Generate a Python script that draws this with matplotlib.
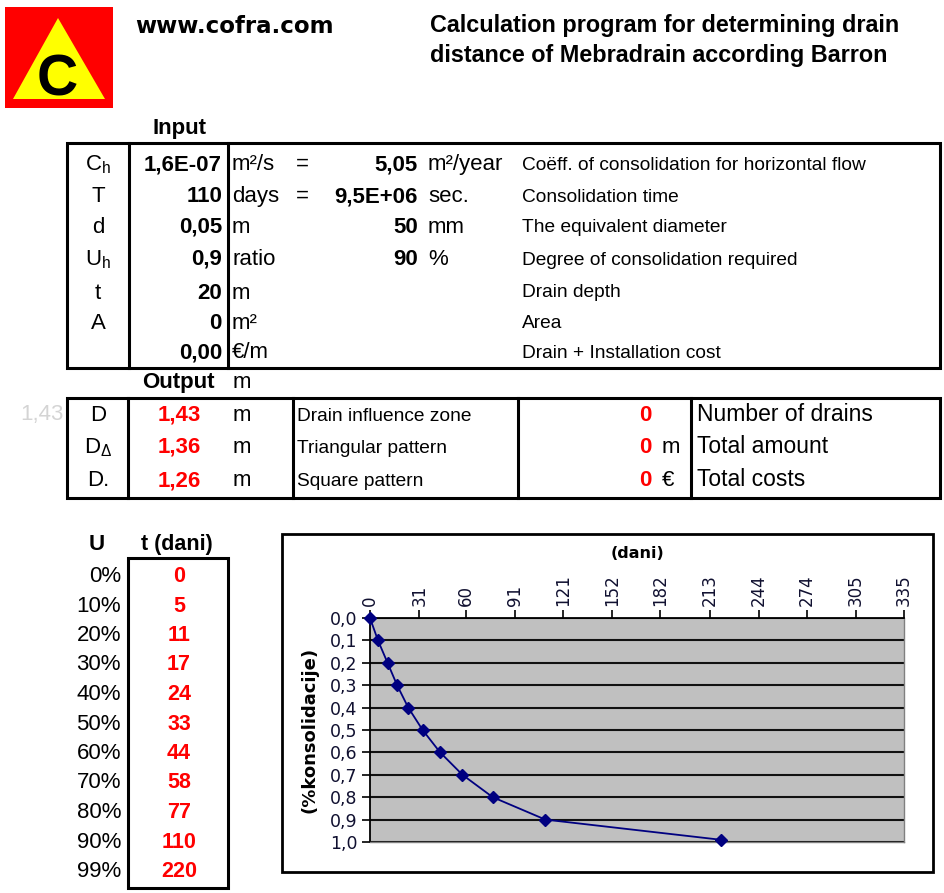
import matplotlib
matplotlib.use("Agg")
import matplotlib.pyplot as plt
from matplotlib.patches import Rectangle, Polygon

plt.rcParams['font.family'] = ['Liberation Sans', 'DejaVu Sans']
plt.rcParams['mathtext.fontset'] = 'custom'
plt.rcParams['mathtext.rm'] = 'Liberation Sans'

# ---------------- data ----------------
header_site = "www.cofra.com"
header_title = ["Calculation program for determining drain",
                "distance of Mebradrain according Barron"]

in_symbols = [r'C$_\mathregular{h}$', 'T', 'd', r'U$_\mathregular{h}$', 't', 'A', '']
in_values = ['1,6E-07', '110', '0,05', '0,9', '20', '0', '0,00']
in_units = ['m²/s', 'days', 'm', 'ratio', 'm', 'm²', '€/m']
in_eq = ['=', '=', '', '', '', '', '']
in_values2 = ['5,05', '9,5E+06', '50', '90', '', '', '']
in_units2 = ['m²/year', 'sec.', 'mm', '%', '', '', '']
in_desc = ['Coëff. of consolidation for horizontal flow', 'Consolidation time',
           'The equivalent diameter', 'Degree of consolidation required',
           'Drain depth', 'Area', 'Drain + Installation cost']

out_symbols = ['D', r'D$_\mathregular{Δ}$', 'D.']
out_values = ['1,43', '1,36', '1,26']
out_units = ['m', 'm', 'm']
out_desc = ['Drain influence zone', 'Triangular pattern', 'Square pattern']
out_right_values = ['0', '0', '0']
out_right_units = ['', 'm', '€']
out_right_desc = ['Number of drains', 'Total amount', 'Total costs']

U_pct = [0, 10, 20, 30, 40, 50, 60, 70, 80, 90, 99]
t_days = [0, 5, 11, 17, 24, 33, 44, 58, 77, 110, 220]

x_ticks = [0, 31, 60, 91, 121, 152, 182, 213, 244, 274, 305, 335]
y_ticks = [0.0, 0.1, 0.2, 0.3, 0.4, 0.5, 0.6, 0.7, 0.8, 0.9, 1.0]

# ---------------- figure ----------------
W, H = 945, 893
fig = plt.figure(figsize=(W / 100, H / 100), dpi=100)
bg = fig.add_axes([0, 0, 1, 1])
bg.set_xlim(0, W)
bg.set_ylim(H, 0)
bg.axis('off')

RED = '#FF0000'
LW = 2.2


def txt(x, y, s, size=16, weight='normal', ha='left', color='black', **kw):
    bg.text(x, y, s, fontsize=size, fontweight=weight, ha=ha, va='baseline',
            color=color, **kw)


# logo
bg.add_patch(Rectangle((5, 7), 108, 101, facecolor='#FF0000', edgecolor='none'))
bg.add_patch(Polygon([(58, 18), (13, 99), (105, 99)], closed=True,
                     facecolor='#FFFF00', edgecolor='none'))
txt(57, 95, 'C', size=41, weight='bold', ha='center')

# header
txt(135, 33, header_site, size=16.5, weight='bold', family='DejaVu Sans')
txt(430, 32, header_title[0], size=16.8, weight='bold')
txt(430, 62, header_title[1], size=16.8, weight='bold')

# input table
txt(152, 134, 'Input', size=16, weight='bold')
bg.add_patch(Rectangle((67, 143), 873, 225, fill=False, edgecolor='black', lw=LW))
bg.plot([129, 129], [143, 368], color='black', lw=LW)
bg.plot([228, 228], [143, 368], color='black', lw=LW)
in_base = [170, 202, 233, 265, 299, 329, 358]
desc_base = [170, 202, 232, 265, 297, 328, 358]
for i in range(len(in_values)):
    b = in_base[i]
    txt(98, b, in_symbols[i], size=16, ha='center')
    txt(222, b, in_values[i], size=16, weight='bold', ha='right')
    txt(232, b, in_units[i], size=16)
    txt(302, b, in_eq[i], size=16, ha='center')
    txt(418, b, in_values2[i], size=16, weight='bold', ha='right')
    txt(428, b, in_units2[i], size=16)
    txt(522, desc_base[i], in_desc[i], size=13.8)

# output table
txt(142, 388, 'Output', size=16, weight='bold')
txt(233, 388, 'm', size=16)
txt(20, 420, out_values[0], size=16, color='#D4D4D4')
bg.add_patch(Rectangle((67, 398), 873, 100, fill=False, edgecolor='black', lw=LW))
for xv in [128, 293, 518, 691]:
    bg.plot([xv, xv], [398, 498], color='black', lw=LW)
out_base = [421, 453, 486]
for i in range(3):
    b = out_base[i]
    txt(98, b, out_symbols[i], size=16, ha='center')
    txt(179, b, out_values[i], size=16, weight='bold', ha='center', color=RED)
    txt(242, b, out_units[i], size=16, ha='center')
    txt(297, b, out_desc[i], size=13.8)
    txt(652, b, out_right_values[i], size=16, weight='bold', ha='right', color=RED)
    txt(662, b, out_right_units[i], size=16)
    txt(697, b, out_right_desc[i], size=16.5)

# U / t table
txt(97, 550, 'U', size=16, weight='bold', ha='center')
txt(177, 550, 't (dani)', size=15.5, weight='bold', ha='center')
bg.add_patch(Rectangle((128, 558), 100, 330, fill=False, edgecolor='black', lw=LW))
for i, (u, t) in enumerate(zip(U_pct, t_days)):
    b = 582 + 29.5 * i
    txt(121, b, f'{u}%', size=16, ha='right')
    txt(179, b, f'{t}', size=15.5, weight='bold', ha='center', color=RED)

# chart frame
bg.add_patch(Rectangle((282, 534), 651, 338, fill=False, edgecolor='black', lw=2))
bg.text(637, 553, '(dani)', fontsize=11.5, fontweight='bold', family='DejaVu Sans',
        ha='center', va='center')
bg.text(310, 730, '(%konsolidacije)', fontsize=13, fontweight='bold',
        family='DejaVu Sans', ha='center', va='center', rotation=90)

# chart
L, R, T, B = 370, 904, 618, 842
ax = fig.add_axes([L / W, 1 - B / H, (R - L) / W, (B - T) / H])
ax.set_facecolor('#C0C0C0')
ax.set_xlim(0, 335)
ax.set_ylim(1.0, 0.0)
ax.xaxis.tick_top()
ax.set_xticks(x_ticks)
ax.set_xticklabels([str(v) for v in x_ticks], rotation=90, fontsize=12,
                   family='DejaVu Sans', color='#101030')
ax.set_yticks(y_ticks)
ax.set_yticklabels([f'{v:.1f}'.replace('.', ',') for v in y_ticks], fontsize=12.5,
                   family='DejaVu Sans', color='#101030')
ax.tick_params(axis='both', direction='out', length=6, width=1.2, color='black', pad=3)
ax.yaxis.grid(True, color='#111111', lw=1.5)
ax.set_axisbelow(True)
for s in ['left', 'top']:
    ax.spines[s].set_color('black')
    ax.spines[s].set_linewidth(1.3)
for s in ['right', 'bottom']:
    ax.spines[s].set_color('#808080')
    ax.spines[s].set_linewidth(1.0)
ax.plot(t_days, [u / 100 for u in U_pct], color='#000080', lw=1.3, marker='D',
        ms=6.5, clip_on=False, zorder=5)

fig.savefig('out.png', dpi=100)
